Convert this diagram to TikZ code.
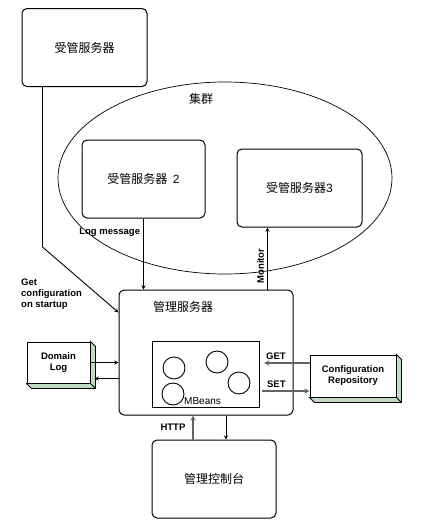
\documentclass[tikz,border=0pt]{standalone}
\usepackage{fontspec}
\setmainfont{Liberation Sans}
\newfontfamily\cjk{Noto Sans CJK SC}
\usepackage{xcolor}
\usetikzlibrary{shapes,arrows,positioning,fit,backgrounds,calc}
\definecolor{shadegreen}{RGB}{192,220,192}
\definecolor{linegray}{RGB}{100,100,100}

\begin{document}
\begin{tikzpicture}[
    x=1pt, y=-1pt,
    server/.style={rectangle, rounded corners=5pt, draw=black, line width=1pt, fill=white, minimum width=125pt, minimum height=78pt, inner sep=0pt, font=\cjk\fontsize{12}{14}\selectfont},
    cluster/.style={ellipse, draw=black, line width=0.7pt, minimum width=334pt, minimum height=192pt},
    beanbox/.style={rectangle, draw=black, line width=1.3pt, fill=white, minimum width=107pt, minimum height=66pt},
    bean/.style={circle, draw=black, line width=0.9pt, minimum size=22pt, inner sep=0pt},
    store/.style={rectangle, draw=black, line width=1pt, fill=white, align=center, inner sep=0pt, font=\fontsize{9.5}{11}\selectfont\bfseries},
    cjklabel/.style={font=\cjk\fontsize{12}{14}\selectfont},
    tag/.style={font=\fontsize{9.5}{11}\selectfont\bfseries, inner sep=3pt, text=black},
    arrow/.style={->, >=stealth, line width=0.9pt},
    grayarrow/.style={->, >=stealth, line width=1.3pt, color=linegray},
]
\useasboundingbox (0,0) rectangle (428,528);

% Cluster
\node[cluster] (cluster) at (225,178) {};
\node[cjklabel] (clusterlbl) at (201,99) {集群};

% Managed servers
\node[server] (ms1) at (84.5,47.5) {受管服务器};
\node[server, minimum width=123pt] (ms2) at (143.5,179) {受管服务器\ \ \fontspec{Liberation Sans}2};
\node[server] (ms3) at (299.5,188) {受管服务器\fontspec{Liberation Sans}3};

% Admin server with MBeans
\node[server, minimum width=174pt, minimum height=125pt] (mgr) at (206,352.5) {};
\node[cjklabel] (mgrtitle) at (183,307) {管理服务器};
\node[beanbox] (mbeans) at (206,374.5) {};
\node[bean] (bean1) at (174,368) {};
\node[bean] (bean2) at (217,362) {};
\node[bean] (bean3) at (239,383) {};
\node[bean] (bean4) at (173,394) {};
\node[anchor=west, inner sep=0pt, font=\fontsize{10}{12}\selectfont] (mbeanslbl) at (184,401) {MBeans};

% Admin console
\node[server, minimum width=124pt] (console) at (214,479) {管理控制台};

% Domain log and repository
\node[store, minimum width=63pt, minimum height=41pt] (dlog) at (58.5,362.5) {Domain\\Log};
\filldraw[fill=shadegreen, draw=black, line width=0.8pt] (dlog.north east) -- ++(5,5) -- ($(dlog.south east)+(5,5)$) -- ($(dlog.south west)+(5,5)$) -- (dlog.south west) -- (dlog.south east) -- cycle;
\draw[line width=0.8pt] (dlog.south east) -- ++(5,5);

\node[store, minimum width=86pt, minimum height=42pt] (cfg) at (353,376) {Configuration\\Repository};
\filldraw[fill=shadegreen, draw=black, line width=0.8pt] (cfg.north east) -- ++(5,5) -- ($(cfg.south east)+(5,5)$) -- ($(cfg.south west)+(5,5)$) -- (cfg.south west) -- (cfg.south east) -- cycle;
\draw[line width=0.8pt] (cfg.south east) -- ++(5,5);

% Arrows - servers to admin server
\draw[arrow] ($(ms1.south west)+(21,0)$) -- ++(0,160) -- ($(mgr.north west)+(0,23)$);
\node[tag, anchor=west, align=left] (getcfg) at (18,294) {Get\\configuration\\on startup};
\draw[arrow] (ms2.south) -- node[tag, pos=0.2, left] {Log message} (ms2.south |- mgr.north);
\coordinate (montop) at ($(ms3.south west)+(31,0)$);
\draw[arrow] (montop |- mgr.north) -- node[tag, pos=0.38, above, sloped] {Monitor} (montop);

% Arrows - domain log
\draw[arrow] (dlog.east) -- (dlog.east -| mgr.west);
\draw[arrow] ($(dlog.east -| mgr.west)+(0,16)$) -- ($(dlog.east)+(4,16)$);

% Arrows - repository
\draw[grayarrow] ($(cfg.west)+(0,-13)$) -- node[tag, pos=0.74, above] {GET} ($(mbeans.east |- cfg.west)+(4,-13)$);
\draw[grayarrow] ($(mbeans.east |- cfg.west)+(2,15)$) -- node[tag, pos=0.3, above] {SET} ($(cfg.west)+(0,15)$);

% Arrows - console
\draw[grayarrow] ($(console.north)+(-21,0)$) -- node[tag, left=4pt] {HTTP} ($(console.north |- mgr.south)+(-21,0)$);
\draw[arrow] ($(mgr.south)+(20,0)$) -- ($(mgr.south |- console.north)+(20,0)$);

\end{tikzpicture}
\end{document}
